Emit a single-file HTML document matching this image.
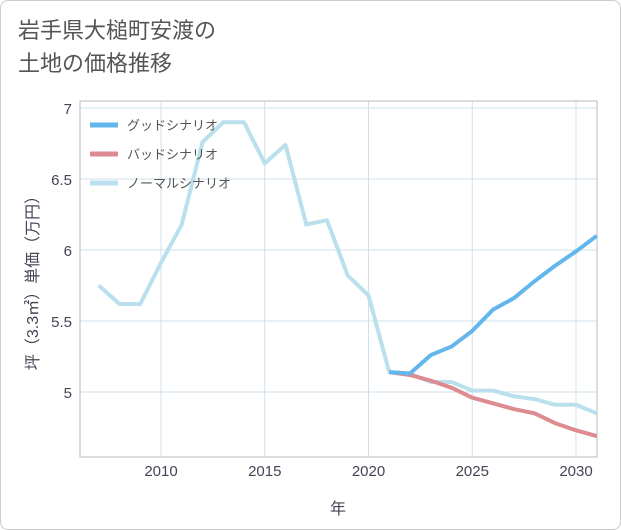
<!DOCTYPE html>
<html><head><meta charset="utf-8"><style>
body{margin:0;background:#fff;}
#card{position:absolute;left:0;top:0;width:619px;height:528px;border:1px solid #ccc;border-radius:8px;background:#fff;}
#title{position:absolute;left:18px;top:14px;font:22px "Liberation Sans","Noto Sans CJK JP",sans-serif;color:#555;line-height:33px;}
svg{position:absolute;left:0;top:0;}
</style></head><body>
<div id="card"></div>
<div id="title">岩手県大槌町安渡の<br>土地の価格推移</div>
<svg id="chart" width="621" height="530"></svg>
<script>
const years=[2007,2008,2009,2010,2011,2012,2013,2014,2015,2016,2017,2018,2019,2020,2021,2022,2023,2024,2025,2026,2027,2028,2029,2030,2031];
const normal=[5.75,5.62,5.62,5.91,6.18,6.76,6.9,6.9,6.61,6.74,6.18,6.21,5.82,5.68,5.14,5.13,5.07,5.07,5.01,5.01,4.97,4.95,4.91,4.91,4.85];
const fYears=[2021,2022,2023,2024,2025,2026,2027,2028,2029,2030,2031];
const good=[5.14,5.13,5.26,5.32,5.43,5.58,5.66,5.78,5.89,5.99,6.10];
const bad=[5.14,5.12,5.08,5.03,4.96,4.92,4.88,4.85,4.78,4.73,4.69];
const xTicks=[2010,2015,2020,2025,2030];
const yTicks=[5,5.5,6,6.5,7];
const yLabels=["5","5.5","6","6.5","7"];
const L=80,R=597,T=101,B=457;
const x=v=>161+(v-2010)*20.75;
const y=v=>392-(v-5)*142;
const s=document.getElementById('chart');const NS='http://www.w3.org/2000/svg';
function mk(t,a,p){const e=document.createElementNS(NS,t);for(const k in a)e.setAttribute(k,a[k]);(p||s).appendChild(e);return e;}
const font='"Liberation Sans","Noto Sans CJK JP",sans-serif';
xTicks.forEach(t=>{const g=mk('line',{x1:x(t),x2:x(t),y1:T,y2:B,stroke:'#cfe0ea','stroke-width':1});


const tx=mk('text',{x:x(t),y:476,'text-anchor':'middle','font-size':15,fill:'#445','font-family':font});tx.textContent=t;

});
yTicks.forEach((t,i)=>{const g=mk('line',{x1:L,x2:R,y1:y(t),y2:y(t),stroke:'#cfe0ea','stroke-width':1});


const tx=mk('text',{x:72,y:y(t)+6,'text-anchor':'end','font-size':15,fill:'#445','font-family':font});tx.textContent=yLabels[i];

});
const fr=mk('rect',{x:L,y:T,width:R-L,height:B-T,fill:'none',stroke:'#bbb','stroke-width':1});


function line(xs,vs,c,n){const p=mk('polyline',{points:xs.map((v,i)=>x(v)+','+y(vs[i])).join(' '),fill:'none',stroke:c,'stroke-width':4,'stroke-linejoin':'round'});

}
line(years,normal,'#b9e0ec','normal-scenario-line');
line(fYears,bad,'#dd8a90','bad-scenario-line');
line(fYears,good,'#63b6ec','good-scenario-line');
const leg=[['グッドシナリオ','#63b6ec'],['バッドシナリオ','#dd8a90'],['ノーマルシナリオ','#b9e0ec']];
leg.forEach((l,i)=>{const yy=125+i*29;const g=mk('g',{});


mk('line',{x1:90,x2:118,y1:yy,y2:yy,stroke:l[1],'stroke-width':5},g);
const t=mk('text',{x:127,y:yy+5,'font-size':13,fill:'#555','font-family':font},g);t.textContent=l[0];});
const xt=mk('text',{x:338,y:514,'text-anchor':'middle','font-size':16,fill:'#445','font-family':font});xt.textContent='年';


const yt=mk('text',{x:0,y:0,'text-anchor':'middle','font-size':16,fill:'#445','font-family':font,transform:'translate(38,279) rotate(-90)'});yt.textContent='坪（3.3㎡）単価（万円）';


</script>
</body></html>
